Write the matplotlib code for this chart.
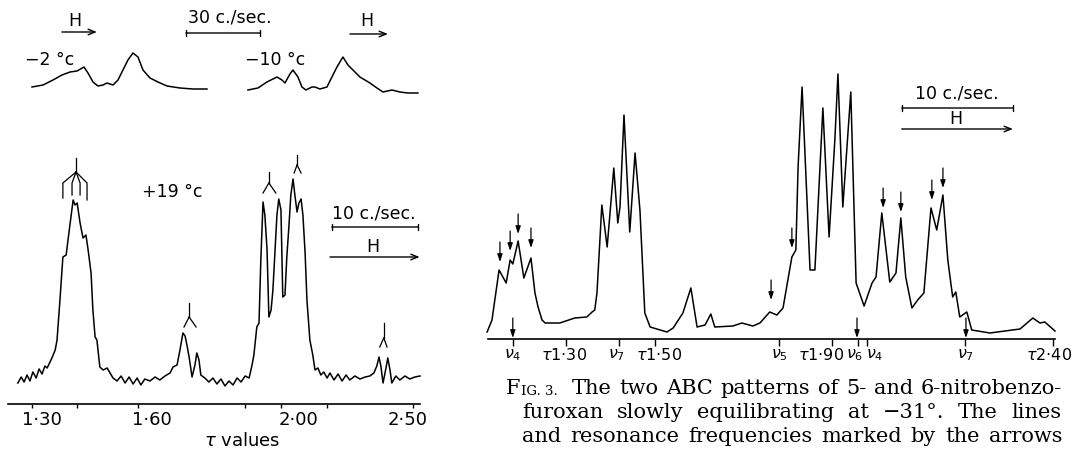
import matplotlib.pyplot as plt

# Figure size in pixels
W, H = 1083, 451

# +19 °C trace (tau value, pen height)
tau_19 = [1.234, 1.243, 1.251, 1.259, 1.267, 1.275, 1.284, 1.292, 1.300, 1.308,
          1.314, 1.327, 1.336, 1.341, 1.349, 1.357, 1.366, 1.371, 1.379, 1.385,
          1.390, 1.396, 1.398, 1.404, 1.412, 1.420, 1.426, 1.434, 1.439, 1.445,
          1.450, 1.458, 1.467, 1.478, 1.486, 1.494, 1.505, 1.516, 1.527, 1.538,
          1.549, 1.560, 1.570, 1.581, 1.595, 1.609, 1.622, 1.636, 1.650, 1.658,
          1.669, 1.677, 1.685, 1.691, 1.696, 1.702, 1.710, 1.718, 1.723, 1.729,
          1.734, 1.745, 1.756, 1.767, 1.778, 1.789, 1.800, 1.811, 1.822, 1.833,
          1.844, 1.855, 1.866, 1.874, 1.879, 1.887, 1.893, 1.898, 1.904, 1.909,
          1.915, 1.920, 1.926, 1.931, 1.937, 1.942, 1.947, 1.953, 1.958, 1.964,
          1.969, 1.975, 1.980, 1.986, 1.991, 1.997, 2.002, 2.008, 2.013, 2.019,
          2.024, 2.032, 2.040, 2.046, 2.054, 2.062, 2.070, 2.079, 2.087, 2.098,
          2.109, 2.120, 2.131, 2.141, 2.155, 2.169, 2.183, 2.196, 2.207, 2.215,
          2.221, 2.226, 2.232, 2.240, 2.245, 2.251, 2.256, 2.267, 2.278, 2.292,
          2.305, 2.319, 2.333]
amp_19 = [21, 27, 22, 29, 23, 32, 26, 35, 30, 38,
          36, 46, 54, 64, 104, 147, 149, 164, 187, 204,
          199, 201, 196, 181, 166, 169, 154, 131, 94, 67,
          64, 37, 34, 36, 31, 26, 23, 28, 21, 27,
          20, 26, 19, 25, 23, 27, 24, 28, 31, 37,
          39, 54, 71, 68, 59, 47, 27, 39, 51, 44,
          29, 26, 22, 26, 20, 25, 18, 23, 19, 26,
          22, 28, 26, 39, 49, 77, 81, 144, 202, 189,
          154, 87, 94, 114, 154, 189, 205, 194, 107, 109,
          147, 179, 209, 225, 209, 192, 201, 205, 189, 151,
          104, 64, 49, 34, 36, 29, 32, 26, 31, 24,
          30, 23, 29, 24, 28, 25, 27, 28, 31, 38,
          47, 38, 21, 36, 46, 34, 21, 28, 24, 28,
          25, 27, 28]

# -2 °C and -10 °C insets (c./sec., pen height)
cps_m2 = [12.97, 17.43, 21.49, 25.13, 28.38, 31.22, 34.05, 35.68, 37.70, 39.73,
          41.76, 43.38, 45.81, 47.84, 49.86, 51.89, 53.92, 55.95, 57.97, 60.81,
          64.05, 67.70, 72.97, 78.24, 83.92]
amp_m2 = [8, 10, 15, 20, 23, 24, 28, 22, 13, 9,
          10, 12, 10, 15, 25, 35, 42, 38, 25, 17,
          13, 9, 7, 6, 6]
cps_m10 = [100.54, 104.59, 108.24, 112.30, 114.32, 115.54, 117.57, 118.78, 120.81, 122.43,
           124.05, 126.48, 127.70, 129.73, 132.57, 134.59, 136.62, 139.05, 141.08, 143.92,
           145.94, 147.97, 150.00, 152.84, 155.27, 158.92, 162.16, 165.40, 169.46]
amp_m10 = [5, 7, 13, 18, 15, 12, 21, 25, 18, 8,
           5, 8, 8, 6, 8, 18, 28, 38, 30, 23,
           18, 15, 12, 7, 3, 5, 3, 2, 2]

# -31 °C trace (tau value, pen height)
tau_m31 = [1.122, 1.133, 1.149, 1.165, 1.174, 1.180, 1.192, 1.205, 1.221, 1.230,
           1.237, 1.246, 1.253, 1.286, 1.320, 1.347, 1.359, 1.365, 1.370, 1.381,
           1.393, 1.408, 1.417, 1.422, 1.431, 1.444, 1.456, 1.467, 1.478, 1.490,
           1.528, 1.542, 1.564, 1.582, 1.596, 1.614, 1.627, 1.636, 1.677, 1.697,
           1.722, 1.738, 1.760, 1.776, 1.790, 1.810, 1.819, 1.824, 1.833, 1.851,
           1.862, 1.880, 1.894, 1.907, 1.914, 1.925, 1.943, 1.955, 1.973, 1.991,
           2.000, 2.013, 2.031, 2.045, 2.056, 2.067, 2.081, 2.094, 2.108, 2.124,
           2.137, 2.151, 2.162, 2.173, 2.180, 2.189, 2.205, 2.216, 2.257, 2.325,
           2.354, 2.370, 2.381, 2.404]
amp_m31 = [7, 19, 69, 56, 79, 75, 98, 61, 81, 46,
           32, 19, 16, 16, 21, 22, 27, 29, 46, 134,
           92, 171, 116, 132, 224, 107, 186, 129, 26, 12,
           7, 11, 26, 51, 12, 14, 25, 12, 13, 16,
           13, 16, 27, 24, 31, 82, 89, 172, 252, 69,
           69, 231, 102, 199, 265, 132, 247, 56, 33, 56,
           62, 126, 57, 66, 121, 62, 31, 39, 46, 131,
           109, 144, 79, 42, 47, 22, 27, 9, 6, 10,
           21, 16, 17, 8]

# axis marks
ticks_19 = [1.273, 1.396, 1.562, 1.855, 1.953, 2.079, 2.314]
label_tau_19 = [1.30, 1.60, 2.00, 2.30]
labels_19 = ['1·30', '1·60', '2·00', '2·50']

ticks_m31 = [1.180, 1.300, 1.420, 1.500, 1.781, 1.900, 1.959, 1.979, 2.201, 2.400]
label_tau_m31 = [1.180, 1.295, 1.415, 1.510, 1.781, 1.876, 1.952, 1.998, 2.201, 2.390]
labels_m31 = [r'$\nu_4$', r'$\tau$1·30', r'$\nu_7$', r'$\tau$1·50', r'$\nu_5$',
              r'$\tau$1·90', r'$\nu_6$', r'$\nu_4$', r'$\nu_7$', r'$\tau$2·40']

# arrows marking lines (tau, height of arrow tip) and frequencies on the axis
arrow_tau = [1.151, 1.174, 1.192, 1.221, 1.763, 1.810, 2.016, 2.056, 2.126, 2.151]
arrow_tip = [77, 88, 105, 91, 39, 91, 131, 127, 139, 151]
freq_tau = [1.180, 1.957, 2.203]

# multiplet markers over the +19 °C peaks: stem, top, joint, legs, bend, feet
trees_19 = [
    (1.393, 246, 232, [1.357, 1.382, 1.404, 1.423], 221, [206, 209, 209, 204]),
    (1.702, 101, 87, [1.688, 1.721], 77, [77, 77]),
    (1.920, 232, 221, [1.904, 1.939], 211, [211, 211]),
    (1.997, 249, 239, [1.989, 2.008], 231, [231, 231]),
    (2.234, 81, 66, [2.223, 2.243], 57, [57, 57]),
]

# caption lines (justified in the original)
caption_1 = 'The two ABC patterns of 5- and 6-nitrobenzo-'
caption_2 = 'furoxan slowly equilibrating at −31°.  The lines'
caption_3 = 'and resonance frequencies marked by the arrows'

LW = 1.1
FS = 12.5

fig = plt.figure(figsize=(W / 100, H / 100), dpi=100)


def add_axes_px(x0, y0, x1, y1):
    ax = fig.add_axes([x0 / W, 1 - y1 / H, (x1 - x0) / W, (y1 - y0) / H])
    ax.patch.set_alpha(0)
    for s in ['top', 'left', 'right']:
        ax.spines[s].set_visible(False)
    ax.spines['bottom'].set_position(('data', 0))
    ax.spines['bottom'].set_linewidth(1.2)
    ax.set_yticks([])
    return ax


def bar(ax, x0, x1, y, style):
    ax.annotate('', xy=(x1, y), xytext=(x0, y),
                arrowprops=dict(arrowstyle=style, lw=1.0, color='black',
                                shrinkA=0, shrinkB=0))


def justify(line, x0, x1, y, **kw):
    # spread the words of one line between x0 and x1 (pixels)
    r = fig.canvas.get_renderer()
    words = line.split()
    texts = [fig.text(0, 1 - y / H, w, ha='left', va='center', **kw) for w in words]
    widths = [t.get_window_extent(r).width for t in texts]
    gap = (x1 - x0 - sum(widths)) / (len(words) - 1)
    x = x0
    for t, w in zip(texts, widths):
        t.set_x(x / W)
        x += w + gap


# ---- insets -2 °C / -10 °C ----
ax_top = add_axes_px(0, 0, 420, 110)
ax_top.set_xlim(0, 170.3)
ax_top.set_ylim(-15, 95)
ax_top.axis('off')
ax_top.plot(cps_m2, amp_m2, color='black', lw=LW)
ax_top.plot(cps_m10, amp_m10, color='black', lw=LW)
ax_top.text(20.3, 35, '−2 °c', fontsize=FS, ha='center', va='center')
ax_top.text(111.5, 35, '−10 °c', fontsize=FS, ha='center', va='center')
ax_top.text(30.4, 65, 'H', fontsize=FS, ha='center', va='bottom')
bar(ax_top, 25.1, 39.3, 63, '->,head_length=0.5,head_width=0.2')
ax_top.text(148.8, 65, 'H', fontsize=FS, ha='center', va='bottom')
bar(ax_top, 141.9, 157.3, 61, '->,head_length=0.5,head_width=0.2')
ax_top.text(93.0, 69, '30 c./sec.', fontsize=FS, ha='center', va='bottom')
bar(ax_top, 75.4, 105.4, 62, '|-|,widthA=0.2,widthB=0.2')

# ---- +19 °C spectrum ----
ax1 = add_axes_px(8, 130, 420, 451)
ax1.set_xlim(1.207, 2.333)
ax1.set_ylim(-47, 274)
ax1.plot(tau_19, amp_19, color='black', lw=LW, clip_on=False)
ax1.set_xticks(ticks_19, minor=True)
ax1.set_xticks(label_tau_19, labels_19)
ax1.tick_params(which='major', length=0, pad=5, labelsize=13)
ax1.tick_params(which='minor', length=3, width=1, direction='out')
ax1.text(1.846, -37, r'$\tau$ values', fontsize=13, ha='center', va='center')
ax1.text(1.656, 212, '+19 °c', fontsize=FS, ha='center', va='center')

for stem, top, joint, legs, bend, feet in trees_19:
    ax1.plot([stem, stem], [top, joint], color='black', lw=0.9)
    for lx, foot in zip(legs, feet):
        ax1.plot([stem, lx, lx], [joint, bend, foot], color='black', lw=0.9)

ax1.text(2.208, 182, '10 c./sec.', fontsize=FS, ha='center', va='bottom')
bar(ax1, 2.092, 2.327, 177, '|-|,widthA=0.2,widthB=0.2')
ax1.text(2.204, 148, 'H', fontsize=FS, ha='center', va='bottom')
bar(ax1, 2.087, 2.332, 147, '->,head_length=0.5,head_width=0.2')

# ---- -31 °C spectrum ----
ax2 = add_axes_px(488, 50, 1055, 380)
ax2.set_xlim(1.124, 2.404)
ax2.set_ylim(-41, 289)
ax2.plot(tau_m31, amp_m31, color='black', lw=LW, clip_on=False)
ax2.set_xticks(ticks_m31, [''] * len(ticks_m31))
ax2.tick_params(length=5, width=1, direction='out')
for pos, lab in zip(label_tau_m31, labels_m31):
    ax2.text(pos, -8, lab, fontsize=11.5, ha='center', va='top')

for t, tip in zip(arrow_tau, arrow_tip):
    ax2.annotate('', xy=(t, tip), xytext=(t, tip + 20),
                 arrowprops=dict(arrowstyle='-|>,head_length=0.45,head_width=0.15',
                                 lw=0.9, color='black', shrinkA=0, shrinkB=0))
for t in freq_tau:
    ax2.annotate('', xy=(t, 1), xytext=(t, 21),
                 arrowprops=dict(arrowstyle='-|>,head_length=0.45,head_width=0.15',
                                 lw=0.9, color='black', shrinkA=0, shrinkB=0))

ax2.text(2.183, 236, '10 c./sec.', fontsize=FS, ha='center', va='bottom')
bar(ax2, 2.058, 2.309, 231, '|-|,widthA=0.2,widthB=0.2')
ax2.text(2.180, 211, 'H', fontsize=FS, ha='center', va='bottom')
bar(ax2, 2.058, 2.309, 210, '->,head_length=0.5,head_width=0.2')

# ---- caption ----
serif = 'DejaVu Serif'
cap_fs = 15
fig_f = fig.text(506 / W, 1 - 394 / H, 'F', family=serif, fontsize=cap_fs,
                 ha='left', va='baseline')
ax2.annotate('IG. 3.', xy=(1, 0), xycoords=fig_f, xytext=(0.5, 0),
             textcoords='offset points', family=serif, fontsize=cap_fs * 0.64,
             ha='left', va='bottom', annotation_clip=False)
justify(caption_1, 572, 1062, 388, family=serif, fontsize=cap_fs)
justify(caption_2, 522, 1062, 412, family=serif, fontsize=cap_fs)
justify(caption_3, 522, 1062, 437, family=serif, fontsize=cap_fs)

fig.savefig('out.png', dpi=100)
